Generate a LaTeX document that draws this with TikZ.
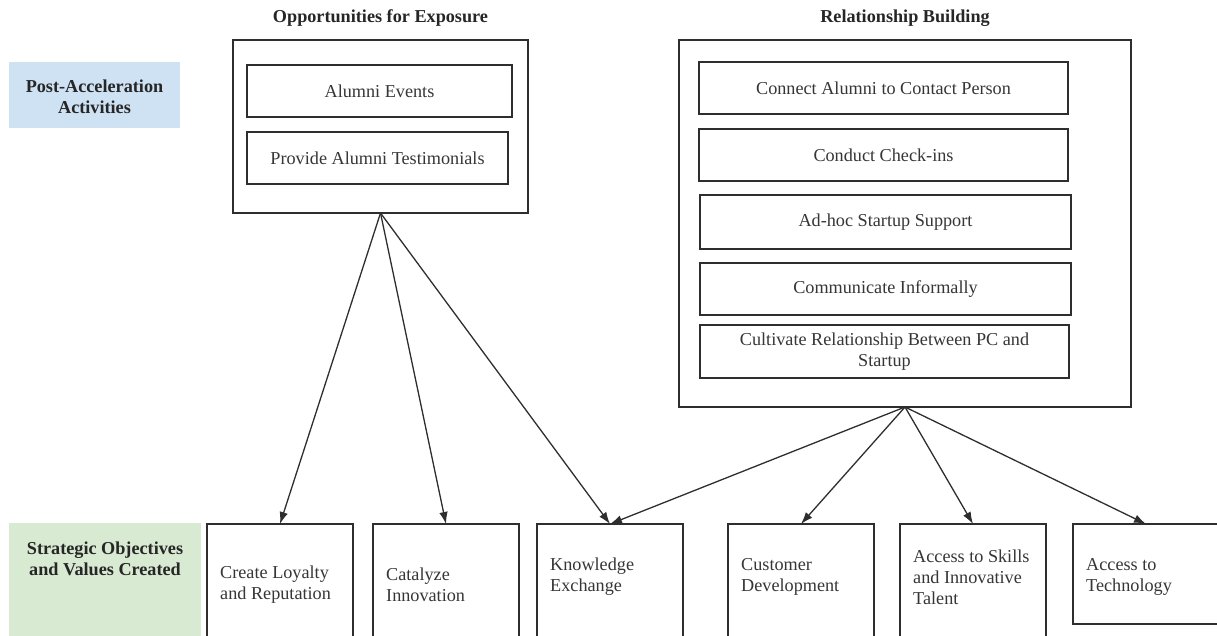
\documentclass[tikz,border=0pt]{standalone}
\usepackage{fontspec}
\setmainfont{Liberation Serif}
\usetikzlibrary{arrows.meta}

\definecolor{edge}{HTML}{2E2E2E}
\definecolor{ink}{HTML}{363636}
\definecolor{phaseblue}{HTML}{CFE2F3}
\definecolor{phasegreen}{HTML}{D9EAD3}

\tikzset{
  basefont/.style={font=\fontsize{18.2}{21}\selectfont},
  frame/.style={draw=edge, line width=1.4pt, inner sep=0pt, outer sep=0pt, fill=white},
  activity/.style={frame, basefont, text=ink, align=center},
  phase/.style={inner sep=0pt, outer sep=0pt},
  phasetext/.style={font=\fontsize{18.2}{21.5}\selectfont\bfseries, align=center, text=black!85},
  heading/.style={font=\fontsize{18.2}{21}\selectfont\bfseries, text=black!85},
  valuetext/.style={basefont, text=ink, align=left, anchor=west, inner sep=0pt},
  flow/.style={draw=edge, line width=1.3pt, -{Latex[length=12pt,width=8.5pt]}}
}

\begin{document}
\begin{tikzpicture}[x=1pt,y=-1pt]
\useasboundingbox (0,0) rectangle (1217,635);
\clip (0,0) rectangle (1217,635);

% row labels
\node[phase, fill=phaseblue, minimum width=171pt, minimum height=66pt] (pa) at (94.5,95) {};
\node[phasetext] (patext) at (94.5,97) {Post-Acceleration\\Activities};
\node[phase, fill=phasegreen, minimum width=192pt, minimum height=127pt] (so) at (105,586.5) {};
\node[phasetext] (sotext) at (105,559) {Strategic Objectives\\and Values Created};

% group headings
\node[heading] (h1) at (380.5,18) {Opportunities for Exposure};
\node[heading] (h2) at (905,18) {Relationship Building};

% opportunities for exposure
\node[frame, minimum width=295pt, minimum height=173pt] (lo) at (380.5,126.5) {};
\node[activity, minimum width=265pt, minimum height=52pt] (ae) at (379.5,91) {Alumni Events};
\node[activity, minimum width=261pt, minimum height=52pt] (at) at (377.5,158) {Provide Alumni Testimonials};

% relationship building
\node[frame, minimum width=452pt, minimum height=367pt] (ro) at (905,223.5) {};
\node[activity, minimum width=369pt, minimum height=52pt] (r1) at (883.5,88) {Connect Alumni to Contact Person};
\node[activity, minimum width=369pt, minimum height=52pt] (r2) at (883.5,155) {Conduct Check-ins};
\node[activity, minimum width=371pt, minimum height=54pt] (r3) at (885.5,222) {Ad-hoc Startup Support};
\node[activity, minimum width=371pt, minimum height=52pt] (r4) at (885.5,289) {Communicate Informally};
\node[activity, minimum width=369pt, minimum height=53pt] (r5) at (884.5,351.5) {Cultivate Relationship Between PC and\\Startup};

% strategic objectives
\node[frame, minimum width=146pt, minimum height=126pt] (b1) at (280,587) {};
\node[frame, minimum width=146pt, minimum height=126pt] (b2) at (446,587) {};
\node[frame, minimum width=146pt, minimum height=126pt] (b3) at (610,587) {};
\node[frame, minimum width=146pt, minimum height=126pt] (b4) at (801,587) {};
\node[frame, minimum width=146pt, minimum height=126pt] (b5) at (973,587) {};
\node[frame, minimum width=146pt, minimum height=100pt] (b6) at (1146,574) {};

\node[valuetext] (t1) at (220,585) {Create Loyalty\\and Reputation};
\node[valuetext] (t2) at (386,585) {Catalyze\\Innovation};
\node[valuetext] (t3) at (550,577) {Knowledge\\Exchange};
\node[valuetext] (t4) at (741,577) {Customer\\Development};
\node[valuetext] (t5) at (913,577) {Access to Skills\\and Innovative\\Talent};
\node[valuetext] (t6) at (1086,577) {Access to\\Technology};

% connectors
\draw[flow] (lo.south) -- (b1.north);
\draw[flow] (lo.south) -- (b2.north);
\draw[flow] (lo.south) -- (b3.north);
\draw[flow] (ro.south) -- (b3.north);
\draw[flow] (ro.south) -- (b4.north);
\draw[flow] (ro.south) -- (b5.north);
\draw[flow] (ro.south) -- (b6.north);
\end{tikzpicture}
\end{document}
